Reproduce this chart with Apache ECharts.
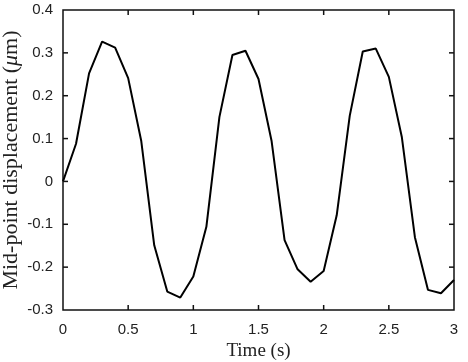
<!DOCTYPE html>
<html>
<head>
<meta charset="utf-8">
<script src="https://cdn.jsdelivr.net/npm/echarts@6/dist/echarts.min.js"></script>
<style>
  html, body { margin: 0; padding: 0; background: #fff; }
  #chart { width: 468px; height: 362px; }
</style>
</head>
<body>
<div id="chart"></div>
<script>
// time samples (s) and mid-point displacement (um)
const times = [0, 0.1, 0.2, 0.3, 0.4, 0.5, 0.6, 0.7, 0.8, 0.9,
               1.0, 1.1, 1.2, 1.3, 1.4, 1.5, 1.6, 1.7, 1.8, 1.9,
               2.0, 2.1, 2.2, 2.3, 2.4, 2.5, 2.6, 2.7, 2.8, 2.9, 3.0];
const displacement = [0.0, 0.088, 0.252, 0.326, 0.312, 0.241, 0.095, -0.149, -0.257, -0.271,
                      -0.222, -0.106, 0.15, 0.295, 0.305, 0.239, 0.095, -0.137, -0.205, -0.234,
                      -0.209, -0.079, 0.153, 0.303, 0.31, 0.244, 0.103, -0.13, -0.253, -0.261, -0.23];
// tick marks on the box (MATLAB style, on all four sides)
const xTicks = [0.5, 1, 1.5, 2, 2.5];
const yTicks = [-0.2, -0.1, 0, 0.1, 0.2, 0.3];

const X_MIN = 0, X_MAX = 3, Y_MIN = -0.3, Y_MAX = 0.4;
const TICK_LEN = 5;
const TICK_W = 1.5;

const lineData = times.map((t, i) => [t, displacement[i]]);

const serif = 'Liberation Serif, Times New Roman, serif';
const sans = 'Liberation Sans, Arial, sans-serif';

const chart = echarts.init(document.getElementById('chart'));
chart.setOption({
    animation: false,
    grid: {
        left: 63, right: 14, top: 10, bottom: 52,
        containLabel: false,
        outerBoundsMode: 'none',
        show: true,
        borderColor: '#111',
        borderWidth: 1.5,
        backgroundColor: 'transparent'
    },
    xAxis: {
        type: 'value',
        min: X_MIN, max: X_MAX, interval: 0.5,
        name: 'Time (s)',
        nameLocation: 'middle',
        nameGap: 29,
        nameTextStyle: { color: '#222', fontSize: 19, fontFamily: serif },
        axisLine: { show: false },
        axisTick: { show: false },
        axisLabel: { margin: 12, color: '#222', fontSize: 15, fontFamily: sans },
        splitLine: { show: false }
    },
    yAxis: {
        type: 'value',
        min: Y_MIN, max: Y_MAX, interval: 0.1,
        name: 'Mid-point displacement ({i|μ}m)',
        nameLocation: 'middle',
        nameRotate: 90,
        nameGap: 41,
        nameMoveOverlap: false,
        nameTextStyle: {
            color: '#222', fontSize: 22, fontFamily: serif,
            rich: { i: { fontStyle: 'italic', fontSize: 22, fontFamily: serif, color: '#222' } }
        },
        axisLine: { show: false },
        axisTick: { show: false },
        axisLabel: { margin: 10, color: '#222', fontSize: 15, fontFamily: sans },
        splitLine: { show: false }
    },
    series: [{
        type: 'line',
        data: lineData,
        showSymbol: false,
        lineStyle: { color: '#000', width: 2 }
    }]
});

// tick marks: positions come from the chart's own scales via convertToPixel
function tickRect(x, y, w, h) {
    return { type: 'rect', shape: { x: x, y: y, width: w, height: h }, style: { fill: '#111' }, z: 100, silent: true };
}
function buildTicks() {
    const els = [];
    xTicks.forEach(v => {
        const b = chart.convertToPixel({ gridIndex: 0 }, [v, Y_MIN]);
        const t = chart.convertToPixel({ gridIndex: 0 }, [v, Y_MAX]);
        els.push(tickRect(b[0] - TICK_W / 2, b[1] - TICK_LEN, TICK_W, TICK_LEN));
        els.push(tickRect(t[0] - TICK_W / 2, t[1], TICK_W, TICK_LEN));
    });
    yTicks.forEach(v => {
        const l = chart.convertToPixel({ gridIndex: 0 }, [X_MIN, v]);
        const r = chart.convertToPixel({ gridIndex: 0 }, [X_MAX, v]);
        els.push(tickRect(l[0], l[1] - TICK_W / 2, TICK_LEN, TICK_W));
        els.push(tickRect(r[0] - TICK_LEN, r[1] - TICK_W / 2, TICK_LEN, TICK_W));
    });
    chart.setOption({ graphic: { elements: els } });
}
buildTicks();
</script>
</body>
</html>
